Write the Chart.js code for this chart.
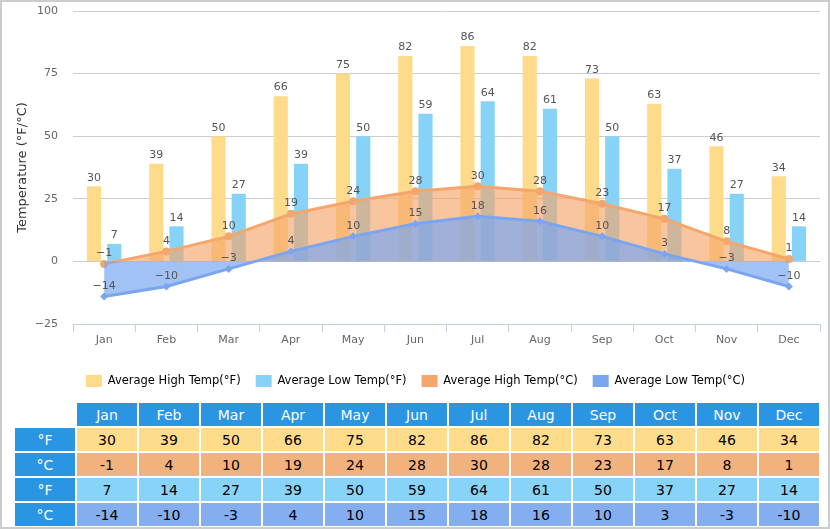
<!DOCTYPE html>
<html>
<head>
<meta charset="utf-8">
<script src="https://cdn.jsdelivr.net/npm/chart.js@4.4.1/dist/chart.umd.min.js"></script>
<style>
    html, body { margin: 0; padding: 0; background: #fff; }
    #wrap {
        position: relative;
        width: 826px;
        height: 525px;
        border: 2px solid #cccccc;
        font-family: "DejaVu Sans", Verdana, sans-serif;
    }
    #chartBox { position: absolute; left: 0; top: 0; width: 826px; height: 395px; }
    #tempTable {
        position: absolute;
        left: 11px;
        top: 399px;
        border-collapse: separate;
        border-spacing: 2px;
        table-layout: fixed;
        font-size: 14px;
    }
    #tempTable td { height: 23px; padding: 0; text-align: center; width: 60px; }
    #tempTable tr.head td { background: #2a95e3; color: #fff; }
    #tempTable tr.head td.blank { background: #fff; }
    #tempTable tr.hf td { background: #fedc8c; }
    #tempTable tr.hc td { background: #f2b27e; }
    #tempTable tr.lf td { background: #87d4f8; }
    #tempTable tr.lc td { background: #84aef0; }
    #tempTable tr td.lab { background: #2a95e3; color: #fff; }
</style>
</head>
<body>
<div id="wrap">
    <div id="chartBox"><canvas id="tempChart"></canvas></div>
    <table id="tempTable"></table>
</div>
<script>
// months and monthly values
var months = ['Jan', 'Feb', 'Mar', 'Apr', 'May', 'Jun', 'Jul', 'Aug', 'Sep', 'Oct', 'Nov', 'Dec'];
var highF = [30, 39, 50, 66, 75, 82, 86, 82, 73, 63, 46, 34];
var lowF = [7, 14, 27, 39, 50, 59, 64, 61, 50, 37, 27, 14];
var highC = [-1, 4, 10, 19, 24, 28, 30, 28, 23, 17, 8, 1];
var lowC = [-14, -10, -3, 4, 10, 15, 18, 16, 10, 3, -3, -10];
var yTicks = [-25, 0, 25, 50, 75, 100];

function minus(v) {
    return v < 0 ? '\u2212' + Math.abs(v) : String(v);
}

// draws the value above every bar and point
var valueLabels = {
    id: 'valueLabels',
    afterDatasetsDraw: function(chart) {
        var ctx = chart.ctx;
        ctx.save();
        ctx.font = '11px "DejaVu Sans", Verdana, sans-serif';
        ctx.fillStyle = '#555555';
        ctx.textAlign = 'center';
        ctx.textBaseline = 'bottom';
        chart.data.datasets.forEach(function(ds, i) {
            var meta = chart.getDatasetMeta(i);
            meta.data.forEach(function(el, j) {
                var off = meta.type === 'bar' ? 3 : 5;
                ctx.fillText(minus(ds.data[j]), el.x, el.y - off);
            });
        });
        ctx.restore();
    }
};

var ctx = document.getElementById('tempChart').getContext('2d');

var tempChart = new Chart(ctx, {
    type: 'bar',
    data: {
        labels: months,
        datasets: [{
            label: 'Average High Temp(°F)',
            data: highF,
            backgroundColor: '#fedb8b',
            order: 2
        }, {
            label: 'Average Low Temp(°F)',
            data: lowF,
            backgroundColor: '#87d3f8',
            order: 3
        }, {
            type: 'line',
            label: 'Average High Temp(°C)',
            data: highC,
            borderColor: '#f4a66c',
            backgroundColor: 'rgba(244,166,108,0.65)',
            pointBackgroundColor: '#f4a66c',
            borderWidth: 3,
            pointRadius: 4,
            pointBorderWidth: 0,
            tension: 0,
            fill: 'origin',
            order: 1
        }, {
            type: 'line',
            label: 'Average Low Temp(°C)',
            data: lowC,
            borderColor: '#7aa6f0',
            backgroundColor: 'rgba(122,166,240,0.7)',
            pointBackgroundColor: '#7aa6f0',
            pointStyle: 'rectRot',
            borderWidth: 3,
            pointRadius: 4,
            pointBorderWidth: 0,
            tension: 0,
            fill: 'origin',
            order: 0
        }]
    },
    options: {
        responsive: true,
        maintainAspectRatio: false,
        animation: false,
        datasets: {
            bar: { categoryPercentage: 0.65, barPercentage: 0.7 }
        },
        layout: { padding: { top: 9, left: 9, right: 8, bottom: 0 } },
        plugins: {
            legend: {
                position: 'bottom',
                labels: {
                    boxWidth: 16,
                    boxHeight: 12,
                    padding: 15,
                    color: '#333333',
                    font: { family: '"DejaVu Sans", Verdana, sans-serif', size: 11.5 },
                    sort: function(a, b) { return a.datasetIndex - b.datasetIndex; },
                    generateLabels: function(chart) {
                        return chart.data.datasets.map(function(ds, i) {
                            return {
                                text: ds.label,
                                fillStyle: ds.type === 'line' ? ds.borderColor : ds.backgroundColor,
                                strokeStyle: 'transparent',
                                lineWidth: 0,
                                datasetIndex: i,
                                hidden: false
                            };
                        });
                    }
                }
            },
            tooltip: { enabled: false }
        },
        scales: {
            x: {
                afterFit: function(scale) { scale.height = 36; },
                grid: {
                    offset: true,
                    drawOnChartArea: false,
                    tickLength: 8,
                    color: '#c0d0e0'
                },
                border: { color: '#c0d0e0' },
                ticks: {
                    padding: 2,
                    color: '#666666',
                    font: { family: '"DejaVu Sans", Verdana, sans-serif', size: 11 }
                }
            },
            y: {
                min: -25,
                max: 100,
                afterFit: function(scale) {
                    scale.width = 62;
                    scale.paddingTop = 0;
                    scale.paddingBottom = 0;
                },
                afterBuildTicks: function(axis) {
                    axis.ticks = yTicks.map(function(v) { return { value: v }; });
                },
                grid: { color: '#cccccc', drawTicks: false },
                border: { display: false },
                ticks: {
                    padding: 15,
                    color: '#666666',
                    font: { family: '"DejaVu Sans", Verdana, sans-serif', size: 11 },
                    callback: function(v) { return minus(v); }
                },
                title: {
                    display: true,
                    text: 'Temperature (°F/°C)',
                    color: '#333333',
                    padding: { top: 4, bottom: 4 },
                    font: { family: '"DejaVu Sans", Verdana, sans-serif', size: 13 }
                }
            }
        }
    },
    plugins: [valueLabels]
});

// the table below the chart
var table = document.getElementById('tempTable');
var rows = [
    { cls: 'hf', unit: '°F', values: highF },
    { cls: 'hc', unit: '°C', values: highC },
    { cls: 'lf', unit: '°F', values: lowF },
    { cls: 'lc', unit: '°C', values: lowC }
];

var head = '<tr class="head"><td class="blank"></td>';
for (var i = 0; i < months.length; i++) {
    head += '<td>' + months[i] + '</td>';
}
table.innerHTML = head + '</tr>';

rows.forEach(function(r) {
    var html = '<tr class="' + r.cls + '"><td class="lab">' + r.unit + '</td>';
    r.values.forEach(function(v) {
        html += '<td>' + v + '</td>';
    });
    table.innerHTML += html + '</tr>';
});
</script>
</body>
</html>
